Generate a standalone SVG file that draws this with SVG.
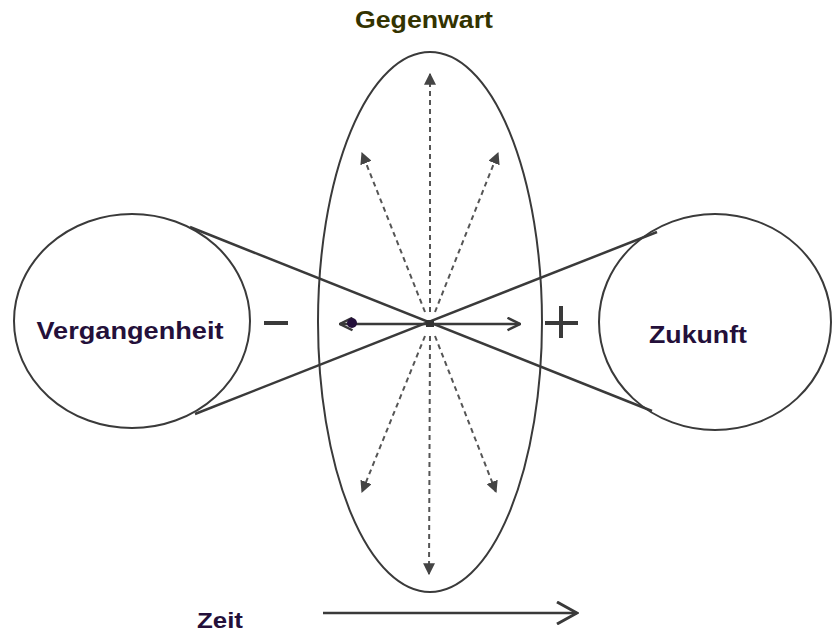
<svg xmlns="http://www.w3.org/2000/svg" width="832" height="634" viewBox="0 0 832 634">
<style>
.t{font-family:"Liberation Sans",Arial,sans-serif;font-weight:bold;}
.shape{fill:none;stroke:#3a3a3a;stroke-width:2;}
.dash{fill:none;stroke:#555;stroke-width:2;stroke-dasharray:5 4;marker-end:url(#tri);}
.solid{fill:none;stroke:#3a3a3a;stroke-width:2.5;}
</style>
<defs>
<marker id="tri" viewBox="0 0 10 10" refX="9" refY="5" markerWidth="6" markerHeight="6" markerUnits="strokeWidth" orient="auto">
<path d="M0,0 L10,5 L0,10 Z" fill="#444"/>
</marker>
<marker id="chev" viewBox="0 0 12 12" refX="11" refY="6" markerWidth="6" markerHeight="6" markerUnits="strokeWidth" orient="auto">
<path d="M1,1 L11,6 L1,11" fill="none" stroke="#3a3a3a" stroke-width="2"/>
</marker>
<marker id="bigchev" viewBox="0 0 24 24" refX="22" refY="12" markerWidth="24" markerHeight="24" markerUnits="userSpaceOnUse" orient="auto">
<path d="M2,1 L22,12 L2,23" fill="none" stroke="#3a3a3a" stroke-width="3"/>
</marker>
</defs>
<rect width="832" height="634" fill="#fff"/>

<g id="vergangenheit">
<ellipse cx="132" cy="321" rx="118" ry="107" class="shape"/>
<text class="t" x="130" y="339" font-size="23" fill="#24103a" text-anchor="middle" textLength="187" lengthAdjust="spacingAndGlyphs">Vergangenheit</text>
</g>

<g id="zukunft">
<ellipse cx="715" cy="322" rx="116" ry="108" class="shape"/>
<text class="t" x="698" y="343" font-size="23" fill="#24103a" text-anchor="middle" textLength="98" lengthAdjust="spacingAndGlyphs">Zukunft</text>
</g>

<g id="gegenwart">
<ellipse cx="430" cy="322" rx="112" ry="270" class="shape" stroke-width="1.8"/>
<text class="t" x="424" y="28" font-size="23" fill="#333300" text-anchor="middle" textLength="138" lengthAdjust="spacingAndGlyphs">Gegenwart</text>
</g>

<g id="zeit">
<text class="t" x="220" y="628" font-size="22" fill="#24103a" text-anchor="middle" textLength="46" lengthAdjust="spacingAndGlyphs">Zeit</text>
</g>

<g id="signs" fill="none" stroke="#3a3a3a" stroke-width="4">
<line x1="264" y1="323" x2="288" y2="323"/>
<line x1="545" y1="323" x2="578" y2="323"/>
<line x1="561" y1="306" x2="561" y2="338"/>
</g>

<g id="connectors">
<line class="solid" x1="190" y1="227" x2="652" y2="411"/>
<line class="solid" x1="195" y1="414" x2="657" y2="232"/>
<line class="solid" x1="430" y1="324" x2="520" y2="324" marker-end="url(#chev)"/>
<line class="solid" x1="430" y1="324" x2="340" y2="324" marker-end="url(#chev)"/>
<circle cx="352" cy="323" r="5" fill="#24103a"/>
<rect x="426" y="320" width="8" height="7" fill="#333"/>
<line class="dash" x1="430" y1="312" x2="430" y2="74"/>
<line class="dash" x1="425" y1="312" x2="362" y2="153"/>
<line class="dash" x1="435" y1="312" x2="498" y2="153"/>
<line class="dash" x1="430" y1="336" x2="429" y2="574"/>
<line class="dash" x1="425" y1="336" x2="362" y2="492"/>
<line class="dash" x1="435" y1="336" x2="496" y2="492"/>
<line class="solid" x1="323" y1="613" x2="577" y2="613" marker-end="url(#bigchev)"/>
</g>
</svg>
